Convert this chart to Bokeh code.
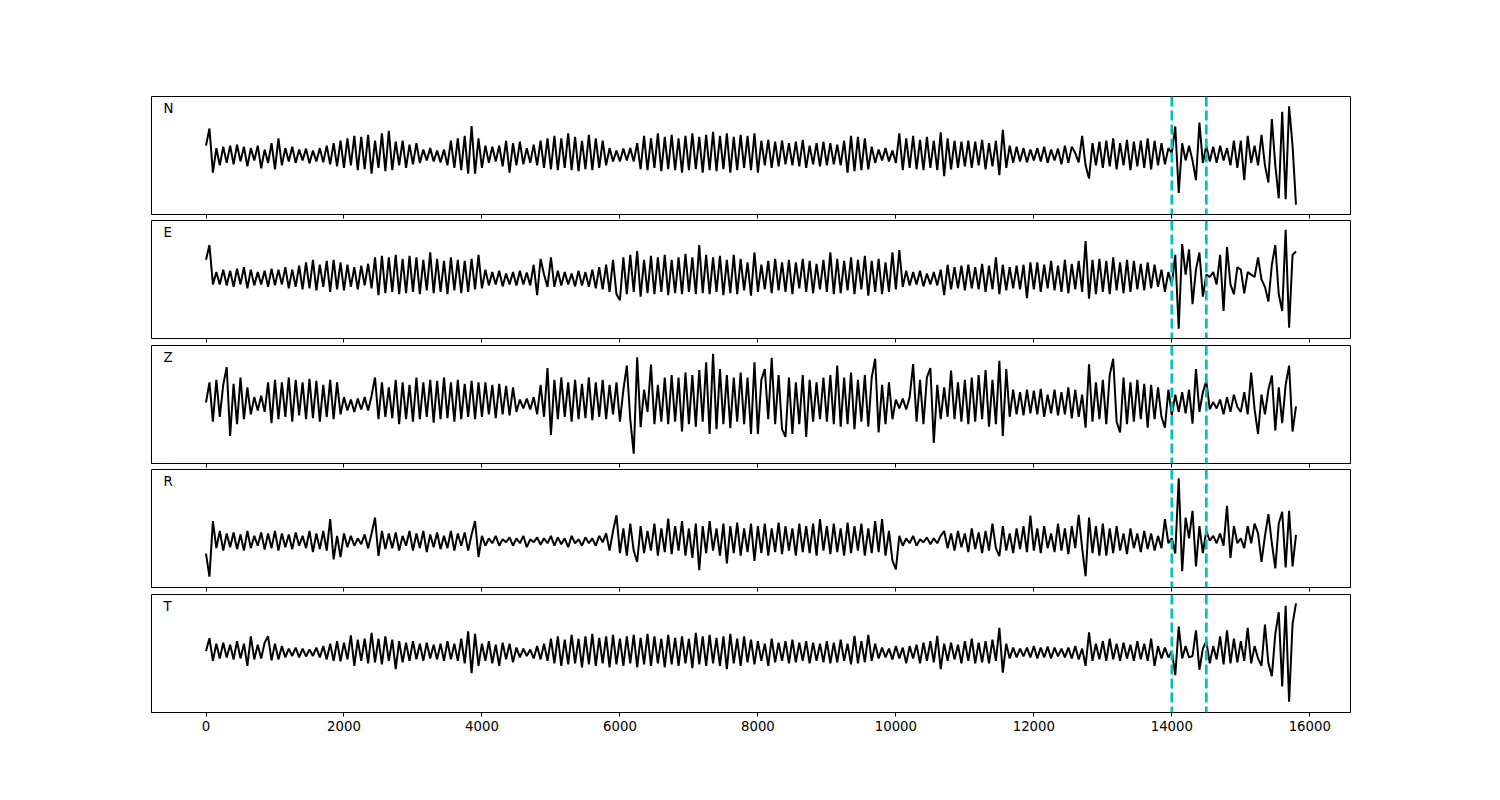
import numpy as np
from bokeh.plotting import figure
from bokeh.models import Range1d, Span, Label, FixedTicker
from bokeh.layouts import column
from bokeh.embed import file_html
from bokeh.resources import INLINE

# sample interval (same x units as axis)
dt = 50
channels = ["N", "E", "Z", "R", "T"]
pick_times = [14000, 14500]
x_ticks = [0, 2000, 4000, 6000, 8000, 10000, 12000, 14000, 16000]

# normalised amplitudes (hundredths), one sample every dt
N_vals = (
    [20, 55, -35, 15, -20, 18, -15, 20, -18, 22, -12, 18, -22, 15, -10, 20, -26, 12, -15, 25]
    + [-28, 35, -20, 15, -12, 18, -15, 12, -10, 14, -16, 10, -12, 15, -14, 20, -18, 25, -22, 30]
    + [-25, 35, -20, 40, -30, 38, -28, 42, -37, 30, -25, 45, -32, 50, -30, 28, -20, 30, -25, 22]
    + [-18, 25, -15, 12, -10, 15, -12, 10, -14, 12, -20, 30, -25, 35, -30, 40, -37, 60, -37, 35]
    + [-25, 20, -15, 18, -12, 20, -22, 30, -35, 25, -20, 28, -18, 15, -15, 22, -20, 30, -25, 35]
    + [-28, 40, -30, 35, -25, 45, -30, 38, -32, 30, -28, 42, -30, 35, -25, 30, -20, 15, -12, 10]
    + [-12, 14, -10, 15, -12, 25, -28, 40, -30, 35, -25, 45, -32, 38, -28, 42, -30, 35, -35, 40]
    + [-30, 45, -28, 38, -35, 42, -30, 48, -32, 40, -28, 45, -35, 38, -30, 42, -25, 40, -30, 45]
    + [-35, 30, -20, 32, -25, 28, -22, 30, -18, 25, -20, 28, -22, 32, -25, 20, -18, 25, -22, 28]
    + [-20, 25, -18, 22, -20, 30, -35, 40, -32, 38, -30, 35, -28, 18, -15, 12, -10, 15, -12, 10]
    + [-15, 45, -30, 35, -25, 40, -28, 32, -30, 38, -25, 30, -30, 47, -42, 35, -28, 30, -25, 28]
    + [-22, 30, -25, 28, -20, 32, -28, 25, -22, 30, -40, 52, -25, 20, -15, 18, -12, 15, -14, 12]
    + [-10, 15, -12, 18, -15, 12, -10, 14, -18, 20, -15, 18, 5, -14, 40, -20, -47, 25, -20, 28]
    + [-25, 30, -22, 35, -28, 25, -20, 32, -30, 28, -22, 30, -25, 35, -28, 30, -20, 25, -18, 15]
    + [5, 59, -76, 25, -10, 20, -10, -50, 67, -15, 20, -12, 18, -15, 20, -10, 15, -20, 30, -25]
    + [30, -50, 40, -15, 20, -20, 42, -20, -55, 74, -20, -87, 89, -89, 100, 20, -100]
)

E_vals = (
    [40, 70, -10, 15, -10, 20, -12, 18, -15, 22, -10, 25, -18, 20, -12, 15, -10, 18, -15, 22]
    + [-12, 20, -10, 25, -18, 20, -15, 28, -20, 35, -18, 40, -22, 30, -15, 38, -25, 40, -20, 35]
    + [-22, 30, -15, 25, -20, 28, -12, 32, -18, 45, -32, 48, -28, 45, -25, 50, -30, 42, -28, 48]
    + [-25, 45, -30, 40, -22, 55, -28, 42, -25, 38, -30, 45, -22, 40, -28, 38, -25, 42, -20, 50]
    + [-18, 20, -12, 15, -10, 18, -14, 12, -10, 15, -12, 18, -10, 14, -12, 30, -32, 42, 10, -15]
    + [45, -15, 18, -12, 15, -10, 12, -14, 18, -12, 15, -15, 20, -18, 25, -20, 30, -25, 40, -30]
    + [-42, 45, -30, 50, -25, 58, -35, 40, -28, 48, -30, 45, -25, 50, -32, 40, -28, 45, -30, 52]
    + [-25, 45, -30, 70, -28, 50, -30, 45, -25, 48, -32, 40, -28, 50, -30, 42, -22, 35, -33, 55]
    + [-25, 30, -20, 38, -28, 42, -22, 35, -25, 40, -30, 35, -18, 42, -25, 38, -28, 32, -20, 40]
    + [-25, 55, -30, 42, -28, 38, -22, 45, -30, 40, -20, 48, -33, 38, -25, 42, -30, 35, -25, 55]
    + [-20, 60, -15, 18, -12, 15, -10, 18, -14, 12, -10, 15, -12, 20, -32, 30, -20, 25, -18, 28]
    + [-22, 30, -18, 25, -20, 32, -25, 28, -20, 45, -30, 30, -22, 25, -18, 28, -20, 30, -38, 35]
    + [-20, 35, -25, 30, -18, 38, -22, 28, -25, 40, -28, 32, -20, 38, -25, 78, -39, 40, -30, 42]
    + [-25, 38, -30, 45, -22, 35, -28, 40, -25, 38, -20, 32, -22, 35, -18, 30, -15, 20, -25, 15]
    + [-10, 50, -100, 72, 10, 61, -50, 20, 55, -35, 10, 5, 15, -10, 50, -64, 66, -10, -30, 25]
    + [20, -28, 15, 10, 5, 45, 0, -15, -45, 30, 70, -30, -64, 101, -98, 50, 57]
)

Z_vals = (
    [4, 45, -35, 50, -25, 40, 76, -64, 42, -40, 55, -30, 35, -20, 15, -12, 18, -15, 45, -38]
    + [50, -30, 45, -25, 55, -35, 50, -22, 45, -30, 52, -28, 48, -35, 40, -25, 50, -30, 45, -20]
    + [15, -12, 10, -15, 12, -10, 15, -12, 18, 55, -30, 45, -25, 35, -28, 50, -40, 45, -30, 40]
    + [-35, 55, -30, 45, -25, 50, -37, 48, -30, 55, -28, 45, -35, 50, -30, 42, -25, 48, -30, 45]
    + [-25, 45, -20, 40, -28, 42, -20, 38, -22, 35, -15, 10, -8, 12, -10, 15, -20, 40, -25, 74]
    + [-62, 50, -30, 55, -25, 45, -35, 50, -30, 42, -28, 55, -32, 45, -25, 50, -30, 40, -20, 45]
    + [-35, 30, 79, -30, -100, 96, -46, 30, -15, 81, -40, 40, -35, 55, -40, 60, -35, 55, -55, 65]
    + [-40, 60, -45, 70, -35, 86, -60, 103, -50, 72, -40, 60, -48, 55, -35, 65, -40, 55, -60, 86]
    + [-60, 50, 72, -30, 95, -40, 60, -50, -66, 55, -60, 45, -40, 60, -66, 50, -35, 45, -30, 55]
    + [-35, 60, -40, 79, -45, 55, -40, 65, -50, 50, -35, 60, -45, 55, 93, -57, 40, -40, 45, -30]
    + [10, -8, 12, -10, 15, 82, -35, 50, -40, 55, 74, -78, 40, -30, 35, -25, 69, -30, 45, -35]
    + [50, -40, 55, -35, 60, -30, 70, -45, 50, -40, 89, -64, 72, -25, 30, -20, 25, -22, 30, -18]
    + [28, -20, 32, -25, 20, -18, 30, -22, 25, -20, 35, -28, 30, -25, 20, -47, 82, -35, 45, -30]
    + [50, -40, 60, 93, -35, -57, 55, -40, 45, -35, 50, -30, 42, -47, 40, -30, 35, -25, -47, 30]
    + [-22, 20, -15, 25, -18, 30, -39, 72, -15, 25, 48, -10, 5, -8, 10, -20, 15, -15, 20, -5]
    + [-15, 25, -20, 65, -10, -60, 20, -20, 30, 59, -53, 35, -38, 40, 79, -55, -4]
)

R_vals = (
    [-51, -98, 15, -40, -5, -45, -10, -38, -8, -42, -12, -45, -5, -40, -15, -35, -8, -43, -10, -40]
    + [-5, -45, -10, -38, -12, -42, -8, -35, -15, -40, -5, -48, -10, -42, -5, -45, 19, -63, -15, -58]
    + [-10, -38, -15, -35, -20, -32, -12, -40, -10, 22, -56, -5, -42, -10, -40, -8, -45, -15, -35, -5]
    + [-45, -10, -40, -5, -48, -12, -38, -8, -42, -15, -40, -5, -45, -10, -35, -8, -45, -12, 15, -58]
    + [-15, -35, -20, -30, -15, -35, -22, -28, -18, -35, -20, -30, -15, -38, -22, -28, -18, -33, -20, -30]
    + [-15, -35, -18, -32, -20, -38, -15, -30, -22, -35, -18, -30, -20, -35, -15, -28, -10, -45, -5, 27]
    + [-50, 0, -55, 10, -45, -68, 5, -50, -5, -45, 10, -55, 0, -48, 20, -52, 5, -45, 15, -55]
    + [0, -60, 10, -85, 5, -50, 15, -45, 0, -55, 10, -71, 5, -50, 12, -55, 0, -48, 10, -66]
    + [5, -50, 10, -55, 0, -48, 12, -52, 5, -45, 0, -55, 10, -48, 5, -50, 10, -55, 19, -45]
    + [5, -52, 10, -48, 0, -55, 12, -50, 5, -45, 10, -55, 0, -50, 15, -48, 19, -55, -5, -65]
    + [-83, -15, -35, -20, -30, -15, -35, -22, -28, -18, -32, -20, -30, -15, -5, -40, -10, -45, -5, -38]
    + [-10, -48, 0, -42, -8, -50, -5, -45, 10, -40, -56, 5, -45, -10, -50, 0, -42, 5, -48, 26]
    + [-45, 0, -50, 5, -40, -10, -48, 10, -45, 0, -52, 5, -40, 28, -40, -97, 22, -50, 5, -55]
    + [10, -55, 0, -50, 5, -45, -10, -52, 0, -40, -10, -48, -5, -42, -10, -45, -15, -40, 19, -30]
    + [-20, -51, 102, -87, 22, -20, 36, -77, 5, -50, -5, -25, -15, -30, -10, -35, 46, -60, 5, -30]
    + [-20, -40, 5, -30, 10, -10, -68, -15, 29, -30, -81, 10, 34, -79, 36, -77, -13]
)

T_vals = (
    [5, 31, -15, 20, -10, 22, -8, 18, -12, 25, -10, 20, -25, 35, -12, 18, -10, 22, 35, -14]
    + [20, -12, 15, -8, 10, -5, 12, -8, 10, -6, 8, -5, 12, -8, 15, -12, 20, -15, 25, -16]
    + [22, -12, 37, -25, 28, -15, 30, -20, 42, -18, 30, -22, 35, -15, 28, -32, 25, -18, 22, -15]
    + [25, -12, 20, -15, 22, -10, 18, -12, 20, -15, 25, -12, 20, -15, 30, -20, 45, -40, 40, -25]
    + [20, -15, 25, -20, 18, -25, 22, -12, 20, -18, 12, -8, 10, -5, 8, -10, 15, -12, 20, -15]
    + [30, -20, 35, -25, 28, -22, 38, -20, 30, -28, 35, -22, 40, -25, 32, -20, 35, -28, 38, -22]
    + [30, -25, 35, -20, 38, -28, 32, -22, 40, -25, 35, -20, 30, -28, 38, -22, 32, -25, 35, -20]
    + [30, -30, 42, -22, 35, -25, 38, -20, 32, -25, 35, -32, 40, -20, 30, -25, 35, -18, 28, -22]
    + [25, -15, 20, -25, 30, -18, 22, -15, 25, -20, 28, -18, 22, -15, 25, -20, 22, -15, 20, -18]
    + [25, -20, 22, -18, 28, -15, 20, -22, 36, -20, 25, -18, 38, -15, 20, -10, 12, -8, 10, -12]
    + [15, -10, 12, -20, 15, -10, 18, -20, 22, -15, 25, -18, 36, -32, 20, -15, 22, -12, 18, -20]
    + [25, -15, 30, -20, 22, -18, 25, -20, 28, -15, 52, -39, 20, -10, 12, -8, 10, -6, 12, -8]
    + [15, -10, 12, -8, 14, -10, 12, -6, 10, -8, 12, -10, 15, -12, 10, -25, 43, -15, 20, -12]
    + [25, -15, 30, -12, 20, -15, 22, -10, 18, -15, 25, -12, 20, -15, 30, -25, 15, -10, 12, -8]
    + [5, -44, 55, -10, 15, -8, -5, 47, -33, 10, 25, -20, 15, -12, 35, -22, 47, -20, 30, -18]
    + [25, -15, 52, -20, 15, -10, -25, 59, -20, -46, 40, 84, -67, 97, -98, 60, 102]
)

traces = [N_vals, E_vals, Z_vals, R_vals, T_vals]

X0, X1 = -790, 16590
Y0, Y1 = -1.2, 1.2
x_range = Range1d(X0, X1)
FONT = "DejaVu Sans"

figs = []
for i, (name, vals) in enumerate(zip(channels, traces)):
    last = i == len(channels) - 1
    p = figure(
        frame_width=1199, frame_height=118,
        x_range=x_range, y_range=Range1d(Y0, Y1),
        output_backend="svg", toolbar_location=None,
        y_axis_location=None,
        min_border_left=151, min_border_right=134,
        min_border_top=96 if i == 0 else 0,
        min_border_bottom=70 if last else (6 if i % 2 == 0 else 7),
    )
    p.background_fill_color = "white"
    p.border_fill_color = "white"
    p.outline_line_color = "black"
    p.outline_line_width = 1
    p.outline_line_alpha = 1
    p.grid.visible = False

    ax = p.xaxis[0]
    ax.ticker = FixedTicker(ticks=x_ticks)
    ax.major_tick_out = 4
    ax.major_tick_in = 0
    ax.major_tick_line_color = "black"
    ax.major_tick_line_width = 1
    ax.minor_tick_line_color = None
    ax.axis_line_color = "black"
    ax.axis_line_width = 1
    if last:
        ax.major_label_text_font = FONT
        ax.major_label_text_font_size = "13.3px"
        ax.major_label_text_color = "black"
        ax.major_label_standoff = 4
    else:
        ax.major_label_overrides = {t: "" for t in x_ticks}
        ax.major_label_text_font_size = "0px"
        ax.major_label_standoff = 0

    y = np.array(vals, dtype=float) / 100.0
    x = np.arange(len(y)) * dt
    p.line(x, y, line_color="black", line_width=2)

    for t in pick_times:
        p.add_layout(Span(location=t, dimension="height", line_color="#00bfbf",
                          line_width=2.7, line_dash="10 4"))

    p.add_layout(Label(x=X0 + 0.01 * (X1 - X0), y=Y0 + 0.9 * (Y1 - Y0), text=name,
                       text_font=FONT, text_font_size="13.3px", text_color="black",
                       text_baseline="middle", text_align="left"))
    figs.append(p)

layout = column(*figs, spacing=0)
open("out.html", "w").write(file_html(layout, INLINE))
